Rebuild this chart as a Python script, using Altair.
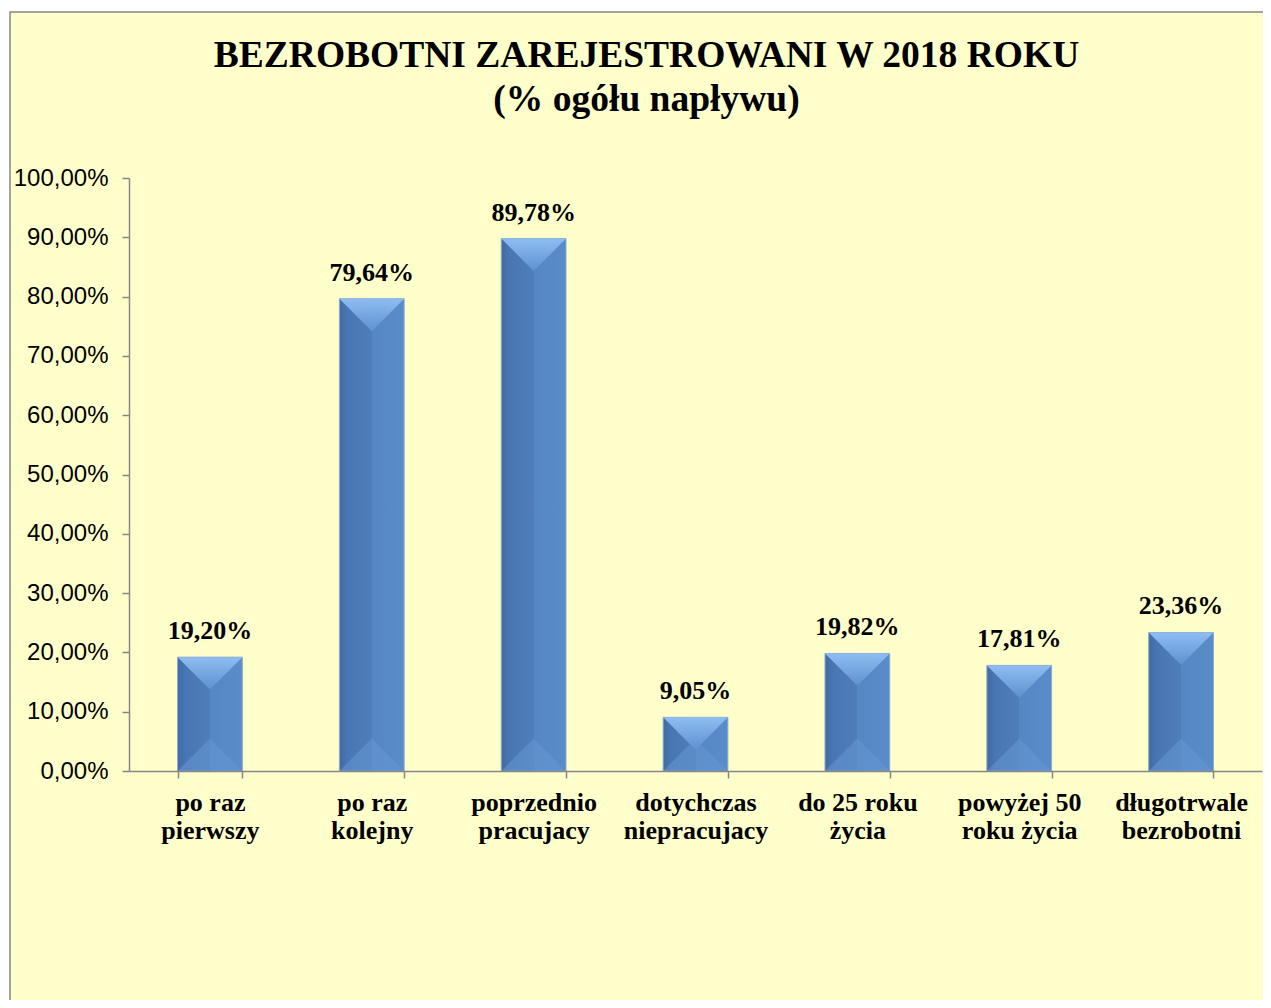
import altair as alt
import pandas as pd

categories = ["po raz|pierwszy", "po raz|kolejny", "poprzednio|pracujacy",
              "dotychczas|niepracujacy", "do 25 roku|życia", "powyżej 50|roku życia",
              "długotrwale|bezrobotni"]
values = [19.20, 79.64, 89.78, 9.05, 19.82, 17.81, 23.36]
y_ticks = [0, 10, 20, 30, 40, 50, 60, 70, 80, 90, 100]
title_lines = ["BEZROBOTNI ZAREJESTROWANI W 2018  ROKU", "(% ogółu napływu)"]

df = pd.DataFrame({"kat": categories, "val": values})
df["lab"] = [f"{v:.2f}".replace(".", ",") + "%" for v in values]

W, H = 1133, 593
PAD_L, PAD_T = 121, 170
TOT_W, TOT_H = 1255, 992

x_enc = alt.X("kat:N", sort=None,
              scale=alt.Scale(paddingInner=0.6, paddingOuter=0.3),
              axis=alt.Axis(title=None, labelAngle=0, tickBand="extent", tickSize=7,
                            tickColor="#868686", domainColor="#868686", domainWidth=1.5,
                            tickWidth=1.5,
                            labelExpr="split(datum.label, '|')",
                            labelFont="Liberation Serif", labelFontWeight="bold",
                            labelFontSize=26, labelLineHeight=28, labelColor="black",
                            labelPadding=11, labelLimit=0, labelBaseline="top",
                            zindex=2))
y_enc = alt.Y("val:Q", scale=alt.Scale(domain=[0, 100]),
              axis=alt.Axis(title=None, values=y_ticks, grid=False, tickSize=7,
                            tickColor="#868686", domainColor="#868686", domainWidth=1.5,
                            tickWidth=1.5,
                            labelExpr="replace(format(datum.value, '.2f'), '.', ',') + '%'",
                            labelFont="Liberation Sans", labelFontSize=24,
                            labelColor="black", labelPadding=14, zindex=2))

frame = alt.Chart(alt.Data(values=[{}])).mark_rect(
    fill="#FFFFCC", stroke="#868686", strokeWidth=1.5
).encode(x=alt.value(-119), x2=alt.value(W + 40),
         y=alt.value(-166), y2=alt.value(H + 260))

base = alt.Chart(df)

bars = base.mark_bar(
    color={"gradient": "linear", "x1": 0, "x2": 1, "y1": 0, "y2": 0,
           "stops": [{"offset": 0, "color": "#3E6BA5"},
                     {"offset": 0.12, "color": "#4976B2"},
                     {"offset": 0.5, "color": "#4E7EBB"},
                     {"offset": 0.5, "color": "#5587C5"},
                     {"offset": 1, "color": "#5A8CCA"}]},
    stroke="#8FA9C9", strokeWidth=1
).encode(x=x_enc, y=y_enc)

top_bevel = base.mark_point(
    shape="M -1 0 L 1 0 L 0 1 Z", filled=True, size=4199, opacity=1,
    color={"gradient": "linear", "x1": 0, "x2": 0, "y1": 0, "y2": 1,
           "stops": [{"offset": 0, "color": "#8FBDF2"},
                     {"offset": 1, "color": "#5E91D0"}]},
    strokeWidth=0
).encode(x=alt.X("kat:N", sort=None), y="val:Q")

bottom_bevel = base.mark_point(
    shape="M -1 0 L 1 0 L 0 -1 Z", filled=True, size=4199, opacity=0.55,
    color="#6697D4", strokeWidth=0
).encode(x=alt.X("kat:N", sort=None), y=alt.datum(0))

labels = base.mark_text(
    font="Liberation Serif", fontWeight="bold", fontSize=26, color="black",
    baseline="alphabetic", dy=-18
).encode(x=alt.X("kat:N", sort=None), y="val:Q", text="lab:N")

chart = alt.layer(frame, bars, bottom_bevel, top_bevel, labels).properties(
    width=W, height=H,
    autosize=alt.AutoSizeParams(type="none"),
    padding={"left": PAD_L, "top": PAD_T, "right": TOT_W - PAD_L - W,
             "bottom": TOT_H - PAD_T - H},
    title=alt.TitleParams(title_lines, font="Liberation Serif", fontWeight="bold",
                          fontSize=37.5, lineHeight=44, color="black",
                          anchor="middle", frame="group", dx=-49, offset=-107,
                          zindex=2)
).configure(background="white").configure_view(stroke=None)

chart.save("out.html", embed_options={"renderer": "svg", "actions": False})
